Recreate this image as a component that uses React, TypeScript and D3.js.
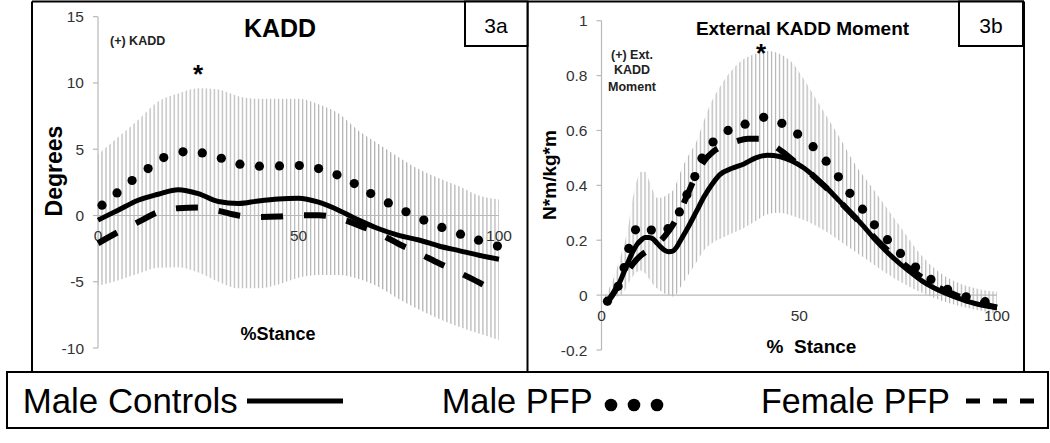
import React from 'react';
import * as d3 from 'd3';

// ---- 3a: knee adduction angle (degrees) ----
const KADD_X = [0, 5, 10, 15, 20, 25, 30, 35, 40, 45, 50, 55, 60, 65, 70, 75, 80, 85, 90, 95, 100];
const KADD_CONTROLS = [-0.35, 0.4, 1.15, 1.6, 1.95, 1.65, 1.05, 0.9, 1.1, 1.25, 1.3, 1.0, 0.4, -0.35, -1.0, -1.5, -1.85, -2.3, -2.65, -3.0, -3.3];
const KADD_FEMALE = [-2.1, -1.25, -0.5, 0.25, 0.55, 0.6, 0.35, 0.0, -0.12, -0.08, 0.02, 0.02, -0.2, -0.75, -1.35, -2.15, -2.85, -3.6, -4.3, -5.05, -5.9];
const KADD_BAND_HI = [4.6, 5.9, 7.2, 8.6, 9.2, 9.6, 9.5, 9.0, 8.8, 8.8, 8.8, 8.4, 7.7, 6.4, 5.4, 4.4, 3.5, 2.8, 2.2, 1.5, 1.2];
const KADD_BAND_LO = [-5.3, -4.9, -4.4, -3.95, -3.9, -4.3, -5.0, -5.5, -5.5, -5.2, -4.7, -4.5, -4.5, -4.8, -5.4, -6.3, -7.1, -7.8, -8.4, -8.9, -9.4];
const KADD_MALE_PFP: [number, number][] = [
  [1, 0.78], [4.75, 1.7], [8.5, 2.64], [12.5, 3.54], [16.4, 4.37], [21.2, 4.8], [26, 4.72],
  [30.75, 4.32], [35.4, 3.87], [40.25, 3.72], [45.25, 3.74], [50.2, 3.77], [55, 3.54],
  [59.6, 3.07], [63.9, 2.41], [68, 1.66], [72.4, 0.95], [76.8, 0.28], [81.25, -0.35],
  [85.75, -0.9], [90.4, -1.41], [94.9, -1.86], [99.6, -2.31],
];
const KADD_Y_TICKS = [-10, -5, 0, 5, 10, 15];

// ---- 3b: external knee adduction moment (N*m/kg*m) ----
const MOM_CONTROLS: [number, number][] = [
  [1, -0.025], [2, -0.012], [3, 0.005], [4, 0.03], [5, 0.06], [6, 0.095], [7, 0.13], [8, 0.16],
  [9, 0.185], [10, 0.2], [11, 0.21], [12, 0.21], [13, 0.205], [14, 0.19], [15, 0.175], [16, 0.163],
  [17, 0.158], [18, 0.16], [19, 0.175], [20, 0.2], [22, 0.25], [24, 0.305], [26, 0.36], [28, 0.405],
  [30, 0.44], [33, 0.462], [36, 0.478], [39, 0.5], [42, 0.51], [45, 0.505], [48, 0.49], [51, 0.465],
  [54, 0.43], [57, 0.39], [60, 0.345], [63, 0.3], [66, 0.255], [69, 0.205], [72, 0.16], [75, 0.12],
  [78, 0.085], [81, 0.052], [84, 0.027], [87, 0.007], [90, -0.01], [93, -0.025], [96, -0.036], [100, -0.045],
];
const MOM_FEMALE: [number, number][] = [
  [1, -0.03], [2, -0.015], [4, 0.03], [6, 0.075], [8, 0.115], [10, 0.145], [12, 0.165], [14, 0.185],
  [16, 0.215], [18, 0.255], [20, 0.31], [22, 0.375], [24, 0.44], [26, 0.49], [28, 0.52], [31, 0.545],
  [34, 0.56], [37, 0.57], [40, 0.57], [43, 0.55], [46, 0.52], [49, 0.485], [52, 0.455], [55, 0.415],
  [58, 0.375], [61, 0.33], [64, 0.285], [67, 0.24], [70, 0.195], [73, 0.155], [76, 0.118], [79, 0.085],
  [82, 0.055], [85, 0.03], [88, 0.01], [91, -0.008], [94, -0.022], [97, -0.035], [100, -0.045],
];
const MOM_MALE_PFP: [number, number][] = [
  [1.5, -0.022], [4.2, 0.032], [5.7, 0.1], [6.9, 0.17], [8.6, 0.238], [12.6, 0.237], [16.8, 0.242],
  [19.7, 0.303], [21.6, 0.366], [23.6, 0.432], [25.4, 0.499], [28.2, 0.558], [32, 0.6], [36.3, 0.623],
  [41, 0.648], [45.6, 0.626], [49.6, 0.587], [53.5, 0.541], [56.8, 0.488], [59.9, 0.431], [62.8, 0.371],
  [66, 0.313], [69, 0.256], [72.3, 0.202], [75.6, 0.152], [79.4, 0.102], [83.3, 0.057], [87.5, 0.021],
  [92.2, -0.006], [97, -0.024],
];
const MOM_BAND_X = [1, 3, 5, 6, 7, 8, 9, 10, 11, 12, 13, 14, 15, 16, 17, 18, 19, 20, 22, 24, 26, 28, 30, 33, 36, 39, 42, 45, 48, 51, 54, 57, 60, 64, 68, 72, 76, 80, 84, 88, 92, 96, 100];
const MOM_BAND_HI = [0.0, 0.06, 0.15, 0.2, 0.27, 0.36, 0.42, 0.45, 0.45, 0.42, 0.38, 0.355, 0.355, 0.36, 0.37, 0.38, 0.41, 0.45, 0.51, 0.56, 0.64, 0.71, 0.76, 0.82, 0.86, 0.88, 0.89, 0.88, 0.85, 0.79, 0.72, 0.65, 0.58, 0.48, 0.4, 0.32, 0.24, 0.16, 0.1, 0.06, 0.035, 0.02, 0.012];
const MOM_BAND_LO = [-0.03, -0.01, 0.0, 0.02, 0.05, 0.07, 0.085, 0.09, 0.08, 0.06, 0.04, 0.025, 0.015, 0.005, 0.0, -0.005, 0.005, 0.03, 0.075, 0.12, 0.165, 0.19, 0.205, 0.225, 0.245, 0.27, 0.295, 0.3, 0.29, 0.275, 0.255, 0.23, 0.2, 0.16, 0.12, 0.08, 0.045, 0.015, -0.01, -0.03, -0.045, -0.057, -0.067];
const MOM_Y_TICKS = [-0.2, 0, 0.2, 0.4, 0.6, 0.8, 1];

const X_TICKS = [0, 50, 100];
const LEGEND = ['Male Controls', 'Male PFP', 'Female PFP'];

const FONT = "'Liberation Sans', Arial, sans-serif";

interface PanelProps {
  id: string;
  xRange: [number, number];
  yDomain: [number, number];
  yRange: [number, number];
  yTicks: number[];
  tickFmt: (v: number) => string;
  bandX: number[];
  bandHi: number[];
  bandLo: number[];
  controls: [number, number][];
  female: [number, number][];
  malePfp: [number, number][];
}

const Panel: React.FC<PanelProps> = (p) => {
  const x = d3.scaleLinear().domain([0, 100]).range(p.xRange);
  const y = d3.scaleLinear().domain(p.yDomain).range(p.yRange);
  const step = x(1) - x(0);

  const area = d3.area<number>()
    .x((_, i) => x(p.bandX[i]))
    .y0((_, i) => y(p.bandLo[i]))
    .y1((_, i) => y(p.bandHi[i]))
    .curve(d3.curveMonotoneX);

  const line = d3.line<[number, number]>()
    .x(d => x(d[0]))
    .y(d => y(d[1]))
    .curve(d3.curveMonotoneX);

  const axisColor = '#b9b9b9';
  const yMin = d3.min(p.yTicks) as number;
  const yMax = d3.max(p.yTicks) as number;

  return (
    <g>
      <defs>
        <pattern id={`${p.id}-hatch`} patternUnits="userSpaceOnUse" x={x(0) - 0.6} y={0} width={step} height={443}>
          <rect x={0} y={0} width={1.2} height={443} fill="#b4b4b4" />
        </pattern>
      </defs>
      <path d={area(p.bandX) || ''} fill={`url(#${p.id}-hatch)`} />

      {/* zero line */}
      <line x1={x(0)} x2={x(100)} y1={y(0)} y2={y(0)} stroke={axisColor} strokeWidth={1.2} />
      {/* y axis */}
      <line x1={x(0)} x2={x(0)} y1={y(yMax)} y2={y(yMin)} stroke={axisColor} strokeWidth={1.2} />
      {p.yTicks.map(t => (
        <g key={t}>
          <line x1={x(0) - 5} x2={x(0)} y1={y(t)} y2={y(t)} stroke={axisColor} strokeWidth={1.2} />
          <text x={x(0) - 14} y={y(t) + 5.5} textAnchor="end" fontSize={15.5} fill="#333" fontFamily={FONT}>
            {p.tickFmt(t)}
          </text>
        </g>
      ))}
      {X_TICKS.map(t => (
        <text key={t} x={x(t)} y={y(0) + 26} textAnchor="middle" fontSize={15.5} fill="#333" fontFamily={FONT}>
          {t}
        </text>
      ))}

      <path d={line(p.controls) || ''} fill="none" stroke="#000" strokeWidth={5} />
      <path d={line(p.female) || ''} fill="none" stroke="#000" strokeWidth={6} strokeDasharray="22 21" />
      {p.malePfp.map((d, i) => (
        <circle key={i} cx={x(d[0])} cy={y(d[1])} r={4.6} fill="#000" />
      ))}
    </g>
  );
};

const App: React.FC = () => {
  const leftX = KADD_X;
  return (
    <svg width={1050} height={443} style={{ position: 'absolute', left: 0, top: 0, background: '#fff' }}>
      <rect x={0} y={0} width={1050} height={443} fill="#fff" />

      <Panel
        id="kadd"
        xRange={[98, 499]}
        yDomain={[-10, 15]}
        yRange={[348, 16.7]}
        yTicks={KADD_Y_TICKS}
        tickFmt={v => String(v)}
        bandX={leftX}
        bandHi={KADD_BAND_HI}
        bandLo={KADD_BAND_LO}
        controls={leftX.map((v, i) => [v, KADD_CONTROLS[i]] as [number, number])}
        female={leftX.map((v, i) => [v, KADD_FEMALE[i]] as [number, number])}
        malePfp={KADD_MALE_PFP}
      />
      <Panel
        id="mom"
        xRange={[601.5, 997]}
        yDomain={[-0.2, 1]}
        yRange={[350, 20.7]}
        yTicks={MOM_Y_TICKS}
        tickFmt={v => (Math.abs(v) < 1e-9 ? '0' : String(+v.toFixed(1)))}
        bandX={MOM_BAND_X}
        bandHi={MOM_BAND_HI}
        bandLo={MOM_BAND_LO}
        controls={MOM_CONTROLS}
        female={MOM_FEMALE}
        malePfp={MOM_MALE_PFP}
      />

      {/* panel frames */}
      <line x1={32} x2={1024} y1={1.5} y2={1.5} stroke="#000" strokeWidth={2} />
      <line x1={32} x2={32} y1={1.5} y2={372} stroke="#000" strokeWidth={2} />
      <line x1={527.5} x2={527.5} y1={1.5} y2={372} stroke="#000" strokeWidth={2} />
      <line x1={1024} x2={1024} y1={1.5} y2={372} stroke="#000" strokeWidth={2} />

      {/* 3a labels */}
      <rect x={465} y={1.5} width={62.5} height={44.5} fill="#fff" stroke="#000" strokeWidth={2} />
      <text x={496} y={33} textAnchor="middle" fontSize={21} fontFamily={FONT}>3a</text>
      <text x={280} y={36.7} textAnchor="middle" fontSize={25} fontWeight="bold" fontFamily={FONT}>KADD</text>
      <text x={110} y={44.5} fontSize={12.5} fontWeight="bold" fontFamily={FONT} fill="#222">(+) KADD</text>
      <text x={198} y={83} textAnchor="middle" fontSize={26} fontWeight="bold" fontFamily={FONT}>*</text>
      <text transform="translate(62,171) rotate(-90)" textAnchor="middle" fontSize={23} fontWeight="bold" fontFamily={FONT}>Degrees</text>
      <text x={278} y={340} textAnchor="middle" fontSize={18} fontWeight="bold" fontFamily={FONT}>%Stance</text>

      {/* 3b labels */}
      <rect x={959} y={1.5} width={64} height={44.5} fill="#fff" stroke="#000" strokeWidth={2} />
      <text x={991} y={33} textAnchor="middle" fontSize={21} fontFamily={FONT}>3b</text>
      <text x={802.5} y={35} textAnchor="middle" fontSize={19} fontWeight="bold" fontFamily={FONT}>External KADD Moment</text>
      <text x={761} y={62} textAnchor="middle" fontSize={26} fontWeight="bold" fontFamily={FONT}>*</text>
      <text textAnchor="middle" fontSize={12.5} fontWeight="bold" fontFamily={FONT} fill="#222">
        <tspan x={632} y={58.5}>(+) Ext.</tspan>
        <tspan x={632} y={74}>KADD</tspan>
        <tspan x={632} y={90.5}>Moment</tspan>
      </text>
      <text transform="translate(556,175) rotate(-90)" textAnchor="middle" fontSize={19} fontWeight="bold" fontFamily={FONT}>N*m/kg*m</text>
      <text x={811.5} y={353} textAnchor="middle" fontSize={19} fontWeight="bold" fontFamily={FONT} xmlSpace="preserve">%  Stance</text>

      {/* legend */}
      <rect x={7} y={372} width={1041} height={56} fill="#fff" stroke="#000" strokeWidth={2} />
      <text x={22.7} y={412.7} fontSize={35} fontFamily={FONT} textLength={215} lengthAdjust="spacingAndGlyphs">{LEGEND[0]}</text>
      <line x1={247} x2={343} y1={401} y2={401} stroke="#000" strokeWidth={5} />
      <text x={441.7} y={412.7} fontSize={35} fontFamily={FONT} textLength={151} lengthAdjust="spacingAndGlyphs">{LEGEND[1]}</text>
      {[611, 634, 657].map(cx => (
        <circle key={cx} cx={cx} cy={405} r={6.3} fill="#000" />
      ))}
      <text x={761} y={412.7} fontSize={35} fontFamily={FONT} textLength={189} lengthAdjust="spacingAndGlyphs">{LEGEND[2]}</text>
      <line x1={966} x2={1034} y1={401} y2={401} stroke="#000" strokeWidth={5} strokeDasharray="14 13" />
    </svg>
  );
};

export default App;
